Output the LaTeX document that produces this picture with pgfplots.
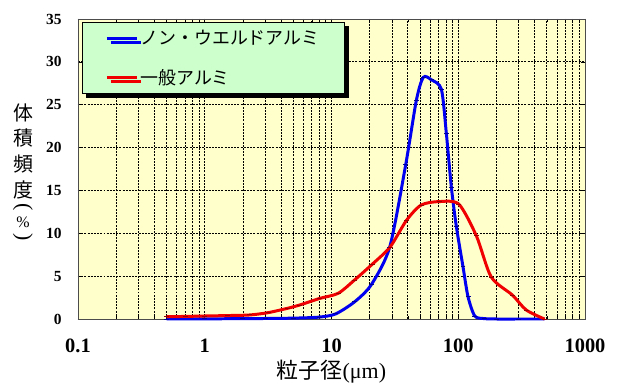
\documentclass[border=0pt]{standalone}
\usepackage{pgfplots}
\pgfplotsset{compat=1.18}
\usepackage{fontspec}
\setmainfont{Liberation Serif}
\newfontfamily\cjk{Noto Sans CJK JP}
\usetikzlibrary{shadows}
\definecolor{bgyel}{HTML}{FFFFCC}
\definecolor{leggreen}{HTML}{CCFFCC}
\definecolor{myblue}{HTML}{0000F0}
\definecolor{myred}{HTML}{F00000}
\begin{document}
\begin{tikzpicture}
\useasboundingbox (-78bp,-69bp) rectangle (543bp,319bp);
\begin{axis}[
  scale only axis, width=507bp, height=300bp,
  at={(0,0)}, anchor=south west, clip=false,
  xmode=log, xmin=0.1, xmax=1000, ymin=0, ymax=35,
  /pgf/number format/assume math mode=true,
  xtick={0.1,1,10,100,1000}, xticklabels={\textbf{0.1},\textbf{1},\textbf{10},\textbf{100},\textbf{1000}},
  ytick={0,5,10,15,20,25,30,35}, yticklabels={\textbf{0},\textbf{5},\textbf{10},\textbf{15},\textbf{20},\textbf{25},\textbf{30},\textbf{35}},
  xticklabel style={font=\fontsize{20.5}{20.5}\selectfont\bfseries, yshift=-16bp},
  yticklabel style={font=\fontsize{15.5}{15.5}\selectfont\bfseries, xshift=-13bp},
  grid=both,
  major grid style={black, dash pattern=on 2pt off 1.2pt, line width=0.75pt},
  minor grid style={black, dash pattern=on 2pt off 1.2pt, line width=0.75pt},
  axis line style={black!70, line width=0.8pt},
  tick style={black, line width=0.6pt},
  axis background/.style={fill=bgyel},
  xlabel={{\cjk 粒子径}(μm)},
  xlabel style={font=\fontsize{22}{22}\selectfont, at={(rel axis cs:0.5,0)}, anchor=center, yshift=-53bp},
  legend style={at={(rel axis cs:0,1)}, anchor=north west, xshift=4bp, yshift=-3bp,
    fill=leggreen, draw=black, line width=0.8pt,
    font=\fontsize{18}{18}\selectfont\cjk,
    inner xsep=23bp, inner ysep=6bp, row sep=19bp,
    drop shadow={shadow xshift=4bp, shadow yshift=-4bp, fill=black, opacity=1},
    nodes={inner xsep=2bp}},
  legend cell align=left,
  legend image code/.code={\draw[#1, line width=3pt] (0bp,0bp) -- (30bp,0bp);},
]
\addplot[myblue, line width=3pt, smooth, tension=0.45, mark=-, mark size=2.5pt, mark options={line width=1pt, blue!60!black}] coordinates {
(0.5,0) (1,0.02) (2,0.04) (3,0.06) (5,0.1) (8,0.22) (10.8,0.6) (15.2,2.0) (20.6,4.0)
(28.8,8.4) (38.5,18.0) (46.7,25.5) (53,28.2) (61.4,27.9) (73.6,26.8) (80.5,21.7)
(88.2,15.4) (96.6,10.8) (109,6.1) (119.4,2.6) (135,0.35) (160,0.05) (200,0) (300,0) (480,0)
};
\addlegendentry{ノン・ウエルドアルミ}
\addplot[myred, line width=3pt, smooth, tension=0.45, mark=-, mark size=2.5pt, mark options={line width=1pt, red!60!black}] coordinates {
(0.5,0.27) (0.7,0.3) (1,0.35) (1.5,0.4) (2.26,0.47) (3.16,0.74) (4.5,1.25) (5.6,1.63)
(8.07,2.4) (11.3,3.0) (15.2,4.55) (21,6.4) (29,8.4) (39,11.5) (51,13.3) (71,13.7)
(101,13.4) (139,9.7) (182,4.9) (267,2.8) (344,1.05) (479,0)
};
\addlegendentry{一般アルミ}
\node[font=\fontsize{20}{20}\selectfont\cjk, anchor=center] at (rel axis cs:-0.1085,0.6867) {体};
\node[font=\fontsize{20}{20}\selectfont\cjk, anchor=center] at (rel axis cs:-0.1085,0.6033) {積};
\node[font=\fontsize{20}{20}\selectfont\cjk, anchor=center] at (rel axis cs:-0.1085,0.5167) {頻};
\node[font=\fontsize{20}{20}\selectfont\cjk, anchor=center] at (rel axis cs:-0.1085,0.4300) {度};
\node[font=\fontsize{22}{22}\selectfont, anchor=center, inner sep=0pt, rotate=-90] at (rel axis cs:-0.1085,0.3733) {(};
\node[font=\fontsize{16}{16}\selectfont, anchor=center] at (rel axis cs:-0.1085,0.3233) {\%};
\node[font=\fontsize{22}{22}\selectfont, anchor=center, inner sep=0pt, rotate=-90] at (rel axis cs:-0.1085,0.2733) {)};
\end{axis}
\end{tikzpicture}
\end{document}
